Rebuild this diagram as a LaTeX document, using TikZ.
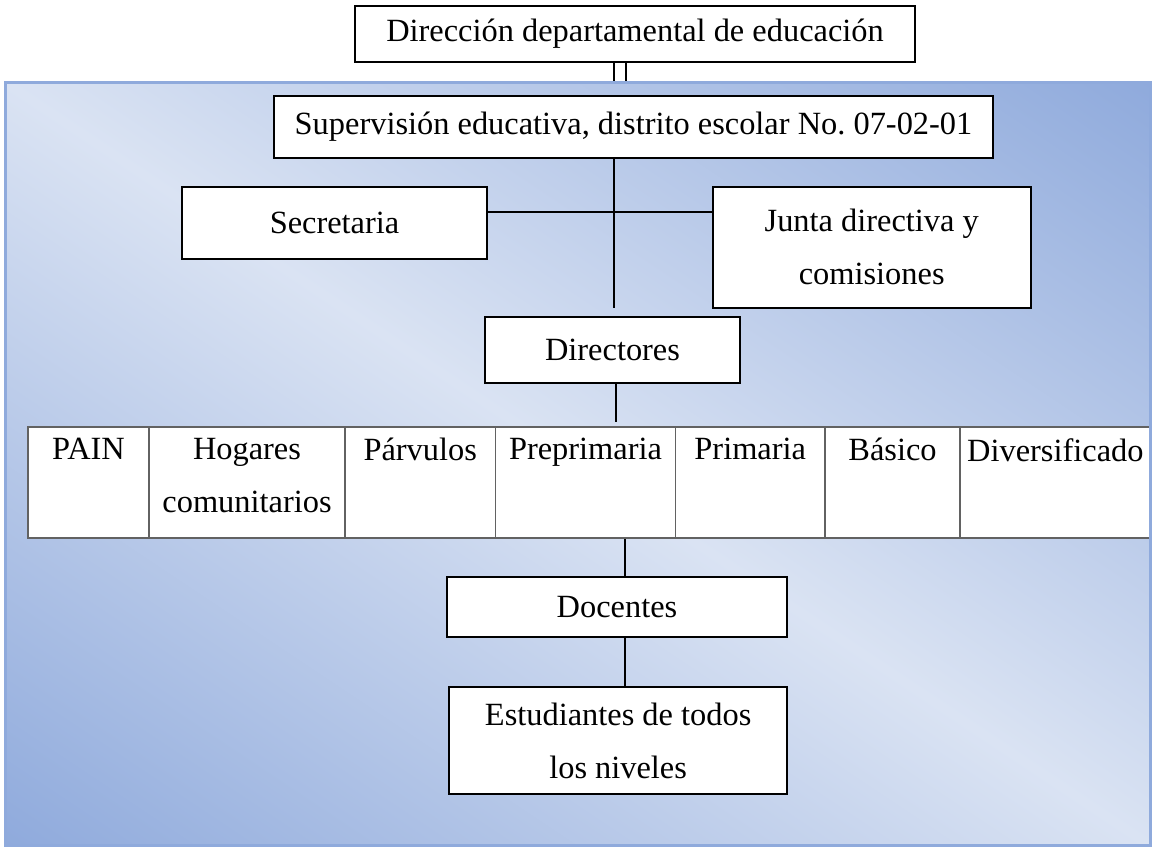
\documentclass[tikz,border=0pt]{standalone}
\usepackage{fontspec}
\setmainfont{Liberation Serif}
\frenchspacing
\definecolor{bgdark}{HTML}{8FAADC}
\definecolor{bglight}{HTML}{DAE3F3}
\definecolor{tblline}{HTML}{626262}
\begin{document}
\begin{tikzpicture}[x=1pt,y=-1pt,
  txt/.style={font=\fontsize{32.4pt}{53pt}\selectfont},
  box/.style={txt, draw=black, line width=2pt, fill=white, align=center, inner sep=0pt},
  conn/.style={draw=black, line width=2pt},
  cell/.style={draw=tblline, line width=1.6pt, fill=white, inner sep=0pt, minimum height=111pt},
  celltext/.style={txt, align=center, inner sep=0pt, anchor=north}]
\useasboundingbox (0,0) rectangle (1153,848);
% background panel
\node[minimum width=1144.7pt, minimum height=762.7pt, inner sep=0pt] (bg) at (578.35,464.35) {};
\fill[gray, opacity=0.35] ([shift={(1.5,1.5)}]bg.north west) rectangle ([shift={(1.5,1.5)}]bg.south east);
\begin{scope}
  \clip (bg.north west) rectangle (bg.south east);
  \begin{scope}[transform canvas={shift={(578.35,464.35)}, rotate=-33.68}]
    \shade[top color=bgdark, bottom color=bgdark, middle color=bglight] (-720,-634.7) rectangle (720,634.7);
  \end{scope}
\end{scope}
% boxes
\node[box, minimum width=560pt, minimum height=56pt] (top) at (635,34) {Dirección departamental de educación};
\node[box, minimum width=719pt, minimum height=62pt] (sup) at (633.5,126.7) {Supervisión educativa, distrito escolar No. 07-02-01};
\node[box, minimum width=304.4pt, minimum height=72.3pt] (sec) at (334.5,222.85) {Secretaria};
\node[box, minimum width=318pt, minimum height=121.3pt] (junta) at (871.7,247.35) {Junta directiva y\\comisiones};
\node[box, minimum width=255pt, minimum height=66.3pt] (dir) at (612.5,349.85) {Directores};
\node[box, minimum width=340pt, minimum height=60pt] (doc) at (617,607.3) {Docentes};
\node[box, minimum width=337.7pt, minimum height=107pt] (est) at (618.15,740.8) {Estudiantes de todos\\los niveles};
% table of levels
\node[cell, minimum width=121pt] (c1) at (88.5,482.5) {};
\node[cell, minimum width=196pt] (c2) at (247,482.5) {};
\node[cell, minimum width=150.5pt] (c3) at (420.25,482.5) {};
\node[cell, minimum width=180pt] (c4) at (585.5,482.5) {};
\node[cell, minimum width=149.5pt] (c5) at (750.25,482.5) {};
\node[cell, minimum width=135pt] (c6) at (892.5,482.5) {};
\node[cell, minimum width=190.7pt] (c7) at (1055.35,482.5) {};
\node[celltext] (t1) at ([yshift=-12pt]c1.north) {PAIN};
\node[celltext] (t2) at ([yshift=-12pt]c2.north) {Hogares\\comunitarios};
\node[celltext] (t3) at ([yshift=-12pt]c3.north) {Párvulos};
\node[celltext] (t4) at ([yshift=-12pt]c4.north) {Preprimaria};
\node[celltext] (t5) at ([yshift=-12pt]c5.north) {Primaria};
\node[celltext] (t6) at ([yshift=-12pt]c6.north) {Básico};
\node[celltext] (t7) at ([yshift=-12pt]c7.north) {Diversificado};
% connectors
\draw[conn, line width=1.6pt] ([xshift=-21pt]top.south) -- ([xshift=-21pt]top.south |- bg.north);
\draw[conn, line width=1.6pt] ([xshift=-9pt]top.south) -- ([xshift=-9pt]top.south |- bg.north);
\draw[conn, shorten >=7.5pt] ([xshift=1.5pt]dir.north |- sup.south) -- ([xshift=1.5pt]dir.north);
\draw[conn] ([yshift=11.15pt]sec.east) -- ([yshift=11.15pt]sec.east -| junta.west);
\draw[conn, shorten >=4.5pt] ([xshift=3.5pt]dir.south) -- ([xshift=3.5pt]dir.south |- c4.north);
\draw[conn] ([xshift=8pt]doc.north |- c4.south) -- ([xshift=8pt]doc.north);
\draw[conn] ([xshift=8pt]doc.south) -- ([xshift=8pt]doc.south |- est.north);
% panel border on top
\draw[bgdark, line width=3pt] (bg.north west) rectangle (bg.south east);
\end{tikzpicture}
\end{document}
